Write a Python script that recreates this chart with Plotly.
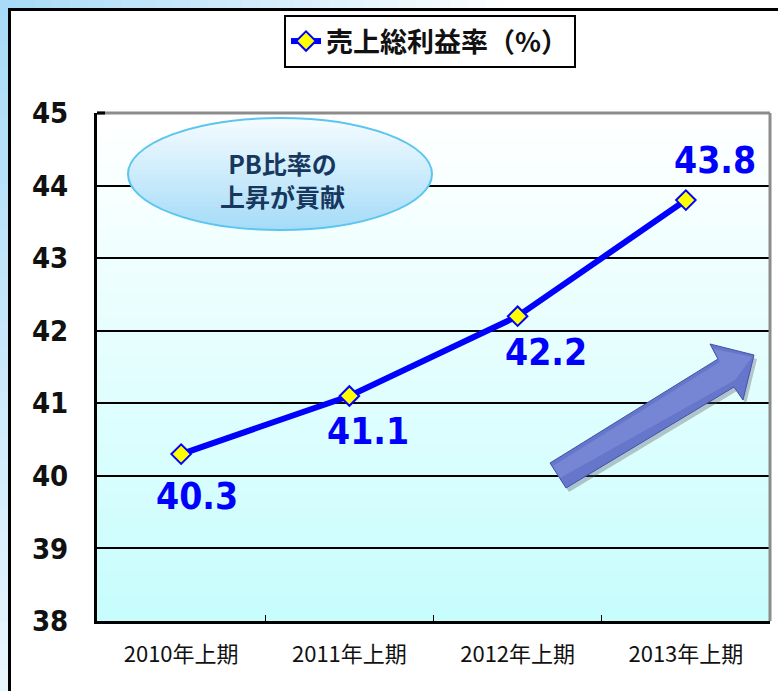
import numpy as np
import plotly.graph_objects as go

# ---- data ----
categories = ["2010年上期", "2011年上期", "2012年上期", "2013年上期"]
gross_margin = [40.3, 41.1, 42.2, 43.8]
series_name = "売上総利益率（%）"
y_ticks = [38, 39, 40, 41, 42, 43, 44, 45]
label_offsets = [(16, -42), (19, -35), (28, -36), (29, 40)]  # pixel shifts for value labels
note_lines = ["PB比率の", "上昇が貢献"]

W, H = 778, 691
L, R, T, B = 97, 8, 113, 70
PW, PH = W - L - R, H - T - B


def px(x):
    return (x - L) / PW


def py(y):
    return (H - B - y) / PH


def mix(c1, c2, t):
    a = [int(c1[i:i + 2], 16) for i in (1, 3, 5)]
    b = [int(c2[i:i + 2], 16) for i in (1, 3, 5)]
    return "#%02x%02x%02x" % tuple(round(a[k] + (b[k] - a[k]) * t) for k in range(3))


shapes = []
# outer light-blue surround
shapes.append(dict(type="rect", xref="paper", yref="paper", x0=px(-5), x1=px(W + 5), y0=py(-5), y1=py(H + 5),
                   fillcolor="#ffffff", line=dict(width=0), layer="below"))
n = 30
for i in range(n):
    y0 = i * H / n
    shapes.append(dict(type="rect", xref="paper", yref="paper", x0=px(-5), x1=px(12),
                       y0=py(y0), y1=py(y0 + H / n + 1),
                       fillcolor=mix("#a8dbf7", "#e8f5fd", i / (n - 1)), line=dict(width=0), layer="below"))
for i in range(n):
    x0 = i * 520 / n
    shapes.append(dict(type="rect", xref="paper", yref="paper", x0=px(x0), x1=px(x0 + 520 / n + 1),
                       y0=py(-5), y1=py(12),
                       fillcolor=mix("#a8dbf7", "#ffffff", i / (n - 1)), line=dict(width=0), layer="below"))
shapes.append(dict(type="rect", xref="paper", yref="paper", x0=px(9.5), x1=px(W + 20), y0=py(9.5), y1=py(H + 20),
                   fillcolor="#ffffff", line=dict(color="#000000", width=3), layer="below"))

# plot-area vertical gradient
nb = 40
for i in range(nb):
    shapes.append(dict(type="rect", xref="paper", yref="paper", x0=0, x1=1,
                       y0=1 - i / nb, y1=1 - (i + 1) / nb - 0.002,
                       fillcolor=mix("#ffffff", "#c8fdfd", i / (nb - 1)), line=dict(width=0), layer="below"))

# top / right grey border of plot area
shapes.append(dict(type="line", xref="paper", yref="paper", x0=0, x1=1, y0=1, y1=1,
                   line=dict(color="#8c8c8c", width=3), layer="above"))
shapes.append(dict(type="line", xref="paper", yref="paper", x0=1, x1=1, y0=0, y1=1,
                   line=dict(color="#8c8c8c", width=3), layer="above"))
shapes.append(dict(type="line", xref="paper", yref="paper", x0=0, x1=px(105), y0=1, y1=1,
                   line=dict(color="#000000", width=3), layer="above"))

# ellipse call-out with vertical gradient
cx, cy, rx, ry = 280, 174, 152, 56
ne = 24
for i in range(ne):
    ya = cy - ry + 2 * ry * i / ne
    yb = cy - ry + 2 * ry * (i + 1) / ne + 0.6
    yb = min(yb, cy + ry)
    ys = np.linspace(ya, yb, 6)
    hw = [rx * np.sqrt(max(0.0, 1 - ((y - cy) / ry) ** 2)) for y in ys]
    pts = [(cx - h, y) for h, y in zip(hw, ys)] + [(cx + h, y) for h, y in zip(hw[::-1], ys[::-1])]
    path = "M" + " L".join("%.5f,%.5f" % (px(a), py(b)) for a, b in pts) + " Z"
    shapes.append(dict(type="path", xref="paper", yref="paper", path=path,
                       fillcolor=mix("#f4fbff", "#a6dcf8", i / (ne - 1)), line=dict(width=0), layer="above"))
shapes.append(dict(type="circle", xref="paper", yref="paper", x0=px(cx - rx), x1=px(cx + rx),
                   y0=py(cy + ry), y1=py(cy - ry), line=dict(color="#5cc5ef", width=2), layer="above"))

# arrow
arrow = [(550, 463), (718, 359), (710, 344), (754, 355), (743, 400), (734, 387), (566, 488)]
shadow = "M" + " L".join("%.5f,%.5f" % (px(a + 3), py(b + 4)) for a, b in arrow) + " Z"
shapes.append(dict(type="path", xref="paper", yref="paper", path=shadow,
                   fillcolor="rgba(90,90,110,0.35)", line=dict(width=0), layer="above"))
apath = "M" + " L".join("%.5f,%.5f" % (px(a), py(b)) for a, b in arrow) + " Z"
shapes.append(dict(type="path", xref="paper", yref="paper", path=apath,
                   fillcolor="#6676cb", line=dict(color="#4252a8", width=1), layer="above"))
hi = [(553, 466), (720, 362), (714, 349), (752, 357), (735, 380), (560, 478)]
hpath = "M" + " L".join("%.5f,%.5f" % (px(a), py(b)) for a, b in hi) + " Z"
shapes.append(dict(type="path", xref="paper", yref="paper", path=hpath,
                   fillcolor="rgba(140,155,225,0.45)", line=dict(width=0), layer="above"))

fig = go.Figure()
fig.add_trace(go.Scatter(
    x=categories, y=gross_margin, name=series_name, mode="lines+markers",
    line=dict(color="#0000ff", width=6),
    marker=dict(symbol="diamond", size=15, color="#ffff00", line=dict(color="#0000ff", width=2)),
))

annotations = []
for c, v, (dx, dy) in zip(categories, gross_margin, label_offsets):
    annotations.append(dict(x=c, y=v, text="%.1f" % v, showarrow=False, xshift=dx, yshift=dy,
                            xanchor="center", yanchor="middle",
                            font=dict(family="DejaVu Sans Condensed, DejaVu Sans", size=37, color="#0000ff",
                                      weight="bold")))
annotations.append(dict(xref="paper", yref="paper", x=px(282), y=py(179), showarrow=False,
                        xanchor="center", yanchor="middle",
                        text="<br>".join(note_lines), align="center",
                        font=dict(family="Noto Sans CJK JP", size=25, color="#17375e", weight="bold")))

fig.update_layout(
    width=W, height=H,
    margin=dict(l=L, r=R, t=T, b=B, pad=0, autoexpand=False),
    paper_bgcolor="#ffffff", plot_bgcolor="#ffffff",
    shapes=shapes, annotations=annotations,
    showlegend=True,
    legend=dict(orientation="h", x=px(430), xanchor="center", y=py(15), yanchor="top",
                bgcolor="#ffffff", bordercolor="#000000", borderwidth=2,
                font=dict(family="Noto Sans CJK JP", size=27, color="#111111", weight="bold")),
    xaxis=dict(type="category", showgrid=False, showline=True, linecolor="#000000", linewidth=3,
               ticks="inside", ticklen=6, tickcolor="#000000", tickwidth=1, tickson="boundaries",
               tickfont=dict(family="Noto Sans CJK JP", size=22, color="#111111"),
               ticklabelstandoff=12, range=[-0.5, 3.5], zeroline=False),
    yaxis=dict(range=[38, 45], tickvals=y_ticks, showgrid=True, gridcolor="#000000", gridwidth=2,
               showline=True, linecolor="#000000", linewidth=3, ticks="", zeroline=False,
               tickfont=dict(family="DejaVu Sans Condensed", size=29, color="#111111",
                             weight="bold"),
               ticklabelstandoff=20),
)

fig.write_html("out.html", config={"displayModeBar": False},
               post_script="document.body.style.margin='0px';document.body.style.overflow='hidden';")
